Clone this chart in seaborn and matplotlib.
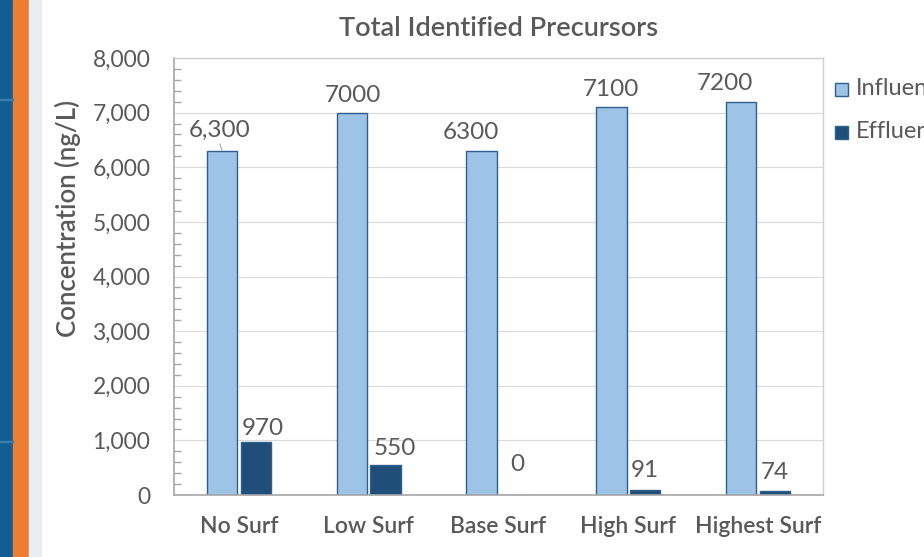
import matplotlib
matplotlib.use("Agg")
import matplotlib.pyplot as plt
from matplotlib.patches import Rectangle
from matplotlib.ticker import MultipleLocator, FuncFormatter
import seaborn as sns
import pandas as pd

categories = ["No Surf", "Low Surf", "Base Surf", "High Surf", "Highest Surf"]
influent = [6300, 7000, 6300, 7100, 7200]
effluent = [970, 550, 0, 91, 74]
series_names = ["Influent", "Effluent"]
influent_fmt = ["{:,}", "{}", "{}", "{}", "{}"]
effluent_fmt = ["{}", "{}", "{}", "{}", "{}"]

# label offsets in points (dx, dy) from the top-centre of each bar to the label centre
influent_offsets = [(-1.5, 15), (0.5, 12.5), (-8, 13), (0, 13), (-11.5, 13)]
effluent_offsets = [(5, 9.5), (6.5, 11.5), (1.5, 22), (-0.5, 14), (0, 13)]

df = pd.DataFrame({
    "Category": categories * 2,
    "Series": [series_names[0]] * len(categories) + [series_names[1]] * len(categories),
    "Value": influent + effluent,
})

sns.set_theme(style="white")
plt.rcParams["font.family"] = ["Lato", "DejaVu Sans"]

TEXT = "#595959"
fig = plt.figure(figsize=(9.24, 5.57), dpi=100)

# slide decoration on the left edge
fig.patches.append(Rectangle((0, 0), 13 / 924, 1, transform=fig.transFigure, color="#125e92", zorder=0))
fig.patches.append(Rectangle((13 / 924, 0), 16 / 924, 1, transform=fig.transFigure, color="#ec7d31", zorder=0))
fig.patches.append(Rectangle((29 / 924, 0), 12 / 924, 1, transform=fig.transFigure, color="#e9eef3", zorder=0))
for yy in (1 - 100 / 557, 1 - 442 / 557):
    fig.patches.append(Rectangle((0, yy), 13 / 924, 1.5 / 557, transform=fig.transFigure, color="#3a7db0", zorder=1))

ax = fig.add_axes([174 / 924, 1 - 495 / 557, 649 / 924, 437 / 557])

palette = {"Influent": "#9dc3e6", "Effluent": "#1f4e79"}
sns.barplot(data=df, x="Category", y="Value", hue="Series", palette=palette,
            width=0.52, gap=0.1, saturation=1, ax=ax, legend=False,
            edgecolor="#2e5f8f", linewidth=1.0)

ax.set_ylim(0, 8000)
ax.set_xlim(-0.5, len(categories) - 0.5)
ax.yaxis.set_major_locator(MultipleLocator(1000))
ax.yaxis.set_minor_locator(MultipleLocator(200))
ax.yaxis.set_major_formatter(FuncFormatter(lambda v, p: f"{int(v):,}"))
ax.grid(axis="y", which="major", color="#d9d9d9", linewidth=0.8)
ax.set_axisbelow(True)
ax.tick_params(axis="y", which="minor", direction="in", length=5, color="#a6a6a6", left=True)
ax.tick_params(axis="y", which="major", length=0, labelsize=16.5, labelcolor=TEXT, pad=17)
ax.tick_params(axis="x", length=0, labelsize=16.5, labelcolor=TEXT, pad=15)
for lab in ax.get_xticklabels():
    lab.set_fontweight("semibold")

for side in ("top", "right"):
    ax.spines[side].set_color("#d0d0d0")
    ax.spines[side].set_linewidth(1.0)
for side in ("left", "bottom"):
    ax.spines[side].set_color("#a6a6a6")
    ax.spines[side].set_linewidth(1.2)

ax.set_xlabel("")
ax.set_ylabel("")
fig.text(68 / 924, 1 - 219 / 557, "Concentration (ng/L)", rotation=90, ha="center", va="center",
         fontsize=18.5, color=TEXT, fontweight="semibold")
fig.text(499 / 924, 1 - 28 / 557, "Total Identified Precursors", ha="center", va="center",
         fontsize=19.5, color=TEXT, fontweight="semibold")

# value labels
bars_in = ax.containers[0]
bars_out = ax.containers[1]
for bars, vals, fmts, offs in ((bars_in, influent, influent_fmt, influent_offsets),
                               (bars_out, effluent, effluent_fmt, effluent_offsets)):
    for rect, v, f, (dx, dy) in zip(bars, vals, fmts, offs):
        cx = rect.get_x() + rect.get_width() / 2
        ax.annotate(f.format(v), (cx, v), xytext=(dx, dy), textcoords="offset points",
                    ha="center", va="center", fontsize=17.5, color=TEXT)

# short leader line from the first moved label down to its bar
first = bars_in[0]
fx = first.get_x() + first.get_width() / 2
ax.annotate("", (fx, influent[0]), xytext=(-1.5, 5), textcoords="offset points",
            arrowprops=dict(arrowstyle="-", color="#a6a6a6", lw=0.8, shrinkA=0, shrinkB=0))

# legend placed at the right, partly running off the figure edge
for i, name in enumerate(series_names):
    y = 1 - (89 + 43 * i) / 557
    fig.patches.append(Rectangle((835 / 924, y - 7 / 557), 13 / 924, 13 / 557,
                                 transform=fig.transFigure, facecolor=palette[name],
                                 edgecolor="#2e5f8f", linewidth=1.0))
    fig.text(856 / 924, y, name, fontsize=17, color=TEXT, va="center", ha="left")

fig.savefig("out.png", dpi=100)
